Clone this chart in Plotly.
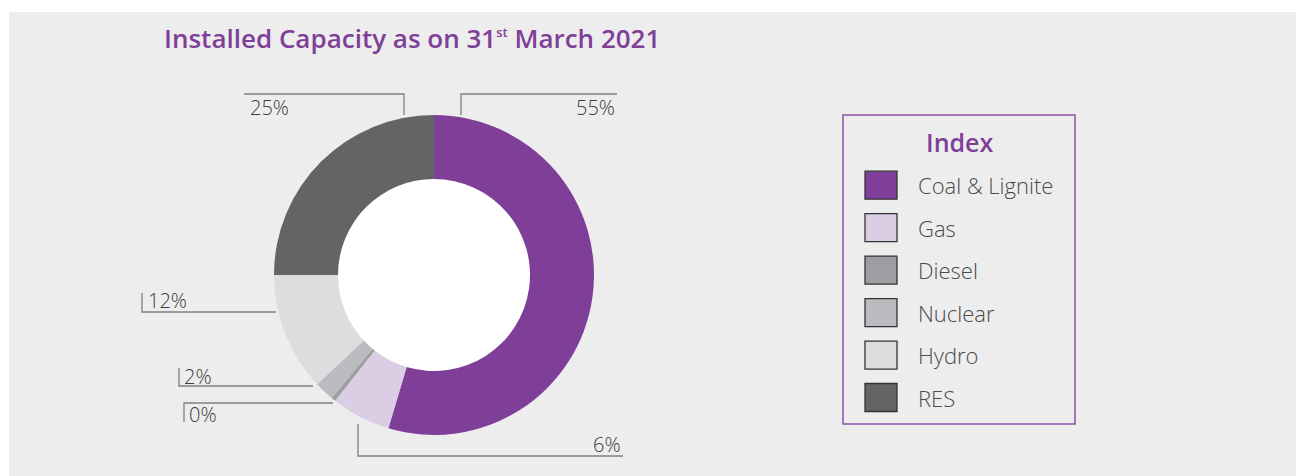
import plotly.graph_objects as go

# Installed capacity share by source (%)
sources = ['Coal & Lignite', 'Gas', 'Diesel', 'Nuclear', 'Hydro', 'RES']
share_pct = [54.6, 6.0, 0.45, 2.0, 11.95, 25.0]
colors = ['#7F3F98', '#DACDE4', '#9D9EA1', '#BBBCBF', '#DCDDDF', '#636466']

W, H = 1296, 476
PURPLE = '#7F3F98'
FONT = 'Open Sans'


def fx(x):
    return x / W


def fy(y):
    return 1 - y / H


# callout layout in pixels: leader polyline, text anchor point, alignment
callouts = {
    'Coal & Lignite': ([(461, 115), (461, 94), (617, 94)], (617, 108), 'right'),
    'RES': ([(404, 115), (404, 94), (244, 94)], (248, 108), 'left'),
    'Hydro': ([(276, 312), (142, 312), (142, 293)], (146, 300), 'left'),
    'Nuclear': ([(313, 386), (179, 386), (179, 368)], (182, 376), 'left'),
    'Diesel': ([(333, 403), (184, 403), (184, 422)], (187, 414), 'left'),
    'Gas': ([(358, 424), (358, 456), (623, 456)], (623, 444), 'right'),
}

fig = go.Figure(go.Pie(
    labels=sources,
    values=share_pct,
    marker=dict(colors=colors, line=dict(width=0)),
    hole=0.6,
    sort=False,
    direction='clockwise',
    rotation=0,
    textinfo='none',
    hoverinfo='label+percent',
    domain=dict(x=[fx(274), fx(594)], y=[fy(435), fy(115)]),
    showlegend=False,
))

shapes = [
    # gray panel
    dict(type='rect', xref='paper', yref='paper', x0=fx(9), x1=1, y0=0, y1=fy(12),
         fillcolor='#EDEDED', line=dict(width=0), layer='below'),
    # white donut centre
    dict(type='circle', xref='paper', yref='paper', x0=fx(434 - 100), x1=fx(434 + 100),
         y0=fy(275 + 100), y1=fy(275 - 100), fillcolor='white', line=dict(width=0), layer='below'),
    # legend box
    dict(type='rect', xref='paper', yref='paper', x0=fx(843), x1=fx(1075), y0=fy(424), y1=fy(115),
         line=dict(color='#8E4FA6', width=1.5), fillcolor='rgba(0,0,0,0)'),
]
annotations = []

for src, val in zip(sources, share_pct):
    pts, (tx, ty), align = callouts[src]
    path = 'M ' + ' L '.join(f'{fx(x)},{fy(y)}' for x, y in pts)
    shapes.append(dict(type='path', xref='paper', yref='paper', path=path,
                       line=dict(color='#808080', width=1.3)))
    annotations.append(dict(xref='paper', yref='paper', x=fx(tx), y=fy(ty),
                            xanchor=align, yanchor='middle', showarrow=False,
                            text=f'{round(val)}%',
                            font=dict(family=FONT, size=20, color='#3C3C3C', weight=300)))

# legend (manual, large swatches)
annotations.append(dict(xref='paper', yref='paper', x=fx(959), y=fy(142), xanchor='center',
                        yanchor='middle', showarrow=False, text='Index',
                        font=dict(family=FONT, size=25, color=PURPLE, weight=600)))
for i, (src, col) in enumerate(zip(sources, colors)):
    cy = 185.2 + i * 42.46
    shapes.append(dict(type='rect', xref='paper', yref='paper', x0=fx(865), x1=fx(897),
                       y0=fy(cy + 14), y1=fy(cy - 14), fillcolor=col,
                       line=dict(color='#333333', width=1.3)))
    annotations.append(dict(xref='paper', yref='paper', x=fx(916), y=fy(cy), xanchor='left',
                            yanchor='middle', showarrow=False, text=src,
                            font=dict(family=FONT, size=22, color='#4A4A4C', weight=300)))

annotations.append(dict(xref='paper', yref='paper', x=fx(162), y=fy(38), xanchor='left',
                        yanchor='middle', showarrow=False,
                        text='Installed Capacity as on 31<sup><span style="font-size:13px">st</span></sup> March 2021',
                        font=dict(family=FONT, size=26, color=PURPLE, weight=600)))

fig.update_layout(
    width=W, height=H,
    margin=dict(l=0, r=0, t=0, b=0),
    paper_bgcolor='white',
    plot_bgcolor='white',
    shapes=shapes,
    annotations=annotations,
)

fig.write_html('out.html', config={'displayModeBar': False},
               post_script="document.body.style.margin='0';document.body.style.overflow='hidden';")
